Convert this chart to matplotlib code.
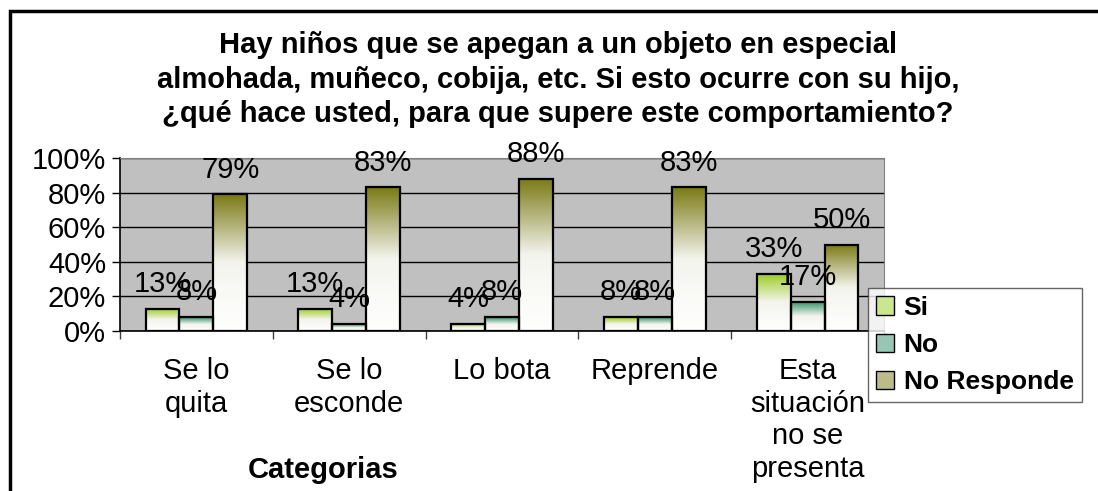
import numpy as np
import matplotlib

matplotlib.use("Agg")
import matplotlib.pyplot as plt
from matplotlib.colors import LinearSegmentedColormap
from matplotlib.patches import Patch, Rectangle
from matplotlib.ticker import PercentFormatter, FixedLocator

categories = ["Se lo\nquita", "Se lo\nesconde", "Lo bota", "Reprende",
              "Esta\nsituación\nno se\npresenta"]
series = ["Si", "No", "No Responde"]
si = [13, 13, 4, 8, 33]
no = [8, 4, 8, 8, 17]
no_responde = [79, 83, 88, 83, 50]

title = ("Hay niños que se apegan a un objeto en especial\n"
         "almohada, muñeco, cobija, etc. Si esto ocurre con su hijo,\n"
         "¿qué hace usted, para que supere este comportamiento?")

top_colors = ["#9acc1e", "#2f8f66", "#7a7a14"]
mid_colors = ["#cce68f", "#97c7b3", "#bcbc8a"]

plt.rcParams["font.family"] = ["Liberation Sans", "DejaVu Sans"]

W, H = 1098, 491
fig = plt.figure(figsize=(W / 100, H / 100), dpi=100)
ax = fig.add_axes([120 / W, 1 - 331 / H, 764 / W, 173 / H])
ax.set_facecolor("#c0c0c0")

x = np.arange(len(categories))
bw = 0.222
grad = np.linspace(0, 1, 256).reshape(-1, 1)

for k, (vals, col) in enumerate(zip([si, no, no_responde], top_colors)):
    cmap = LinearSegmentedColormap.from_list(f"g{k}", ["#ffffff", "#f4f4ee", col])
    pos = x + (k - 1) * bw
    bars = ax.bar(pos, np.array(vals) / 100, bw, facecolor="none",
                  edgecolor="black", linewidth=1.6, zorder=4)
    for b, v in zip(bars, vals):
        x0, w, h = b.get_x(), b.get_width(), b.get_height()
        im = ax.imshow(grad, extent=(x0, x0 + w, 0, h), origin="lower",
                       cmap=cmap, aspect="auto", zorder=3)
        im.set_clip_path(b)
        ax.annotate(f"{v}%", (x0 + w / 2, h), xytext=(0, 12),
                    textcoords="offset points", ha="center", va="baseline",
                    fontsize=21, zorder=6)

ax.set_xlim(-0.5, len(categories) - 0.5)
ax.set_ylim(0, 1)
ax.yaxis.set_major_locator(FixedLocator(np.linspace(0, 1, 6)))
ax.yaxis.set_major_formatter(PercentFormatter(1.0, decimals=0))
ax.grid(axis="y", color="black", linewidth=1, zorder=1)
ax.set_axisbelow(True)

ax.set_xticks(x)
ax.set_xticklabels(categories)
ax.set_xticks(np.arange(-0.5, len(categories)), minor=True)
ax.tick_params(axis="x", which="major", length=0, pad=19, labelsize=21)
ax.tick_params(axis="x", which="minor", length=6, width=1, color="#404040")
ax.tick_params(axis="y", length=6, width=1, labelsize=21, pad=4)
for lbl in ax.get_xticklabels():
    lbl.set_linespacing(1.2)

ax.spines["left"].set_linewidth(1.2)
ax.spines["bottom"].set_linewidth(1.2)
ax.spines["top"].set_color("#808080")
ax.spines["right"].set_color("#808080")

fig.text(558 / W, 1 - 31 / H, title, ha="center", va="top", fontsize=21,
         fontweight="bold", linespacing=1.3)
fig.text(323 / W, 1 - 470 / H, "Categorias", ha="center", va="center",
         fontsize=21, fontweight="bold")

handles = [Patch(facecolor=c, edgecolor="black", linewidth=1) for c in mid_colors]
leg = fig.legend(handles, series, loc="upper left",
                 bbox_to_anchor=(868 / W, 1 - 288 / H),
                 prop={"weight": "bold", "size": 19}, frameon=True,
                 fancybox=False, borderpad=0.3, handlelength=0.7,
                 handleheight=0.7, handletextpad=0.35, labelspacing=0.5,
                 borderaxespad=0)
leg.get_frame().set_edgecolor("#404040")
leg.get_frame().set_linewidth(1)

fig.patches.append(Rectangle((10 / W, -0.2), 1.2, 1.2 - 11 / H,
                             transform=fig.transFigure, fill=False,
                             edgecolor="black", linewidth=2.5))

fig.savefig("out.png", dpi=100)
